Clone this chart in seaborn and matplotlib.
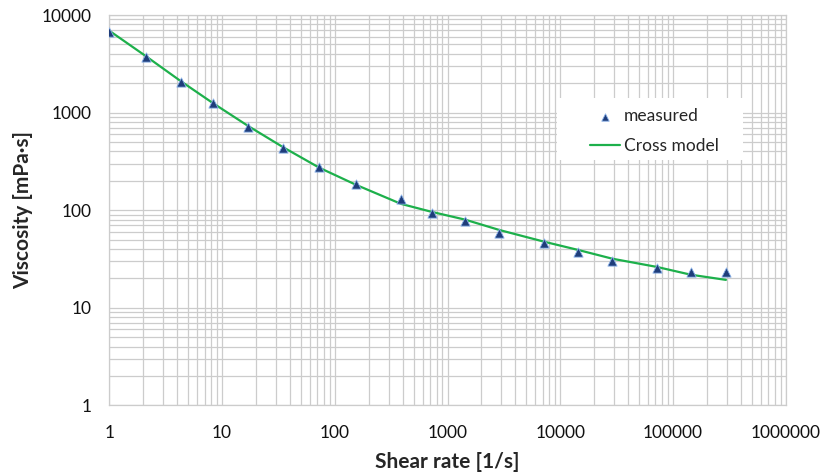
import matplotlib
matplotlib.use("Agg")
import matplotlib.pyplot as plt
import matplotlib.ticker as mticker
from matplotlib.patches import Rectangle
import seaborn as sns
import pandas as pd

# shear rate [1/s] at the measured points
shear_rate = [1, 2.1, 4.3, 8.3, 17, 35, 73, 154, 387, 726, 1430, 2890,
              7200, 14300, 29000, 72000, 144000, 295000]
# measured viscosity [mPa.s]
visc_measured = [6750, 3690, 2075, 1245, 717, 431, 275, 185, 129, 93,
                 77.5, 59, 45.8, 37.6, 30.4, 25.4, 23.4, 23.4]
# Cross model fit [mPa.s]
visc_model = [6900, 3800, 2100, 1250, 730, 440, 272, 182, 116, 96,
              80, 62.6, 47.5, 39.2, 31.8, 26.2, 21.8, 19.3]

x_ticks = [1, 10, 100, 1000, 10000, 100000, 1000000]
y_ticks = [1, 10, 100, 1000, 10000]

df = pd.DataFrame({"shear": shear_rate, "measured": visc_measured,
                   "model": visc_model})

sns.set_theme(style="white")
plt.rcParams["font.family"] = ["Lato", "DejaVu Sans"]

fig = plt.figure(figsize=(8.24, 4.75), dpi=100)
ax = fig.add_axes([0.1327, 0.1467, 0.8208, 0.8217])

sns.lineplot(data=df, x="shear", y="model", ax=ax, color="#1db04b",
             linewidth=1.6, label="Cross model", zorder=3)
sns.scatterplot(data=df, x="shear", y="measured", ax=ax, marker="^",
                s=44, color="#1f3d7a", edgecolor="#86aee6", linewidth=0.6,
                label="measured", zorder=4)

ax.set_xscale("log")
ax.set_yscale("log")
ax.set_xlim(1, 1e6)
ax.set_ylim(1, 1e4)

ax.xaxis.set_major_locator(mticker.FixedLocator(x_ticks))
ax.yaxis.set_major_locator(mticker.FixedLocator(y_ticks))
ax.xaxis.set_minor_locator(mticker.LogLocator(base=10, subs=range(2, 10), numticks=20))
ax.yaxis.set_minor_locator(mticker.LogLocator(base=10, subs=range(2, 10), numticks=20))
fmt = mticker.FuncFormatter(lambda v, p: f"{v:.0f}")
ax.xaxis.set_major_formatter(fmt)
ax.yaxis.set_major_formatter(fmt)
ax.xaxis.set_minor_formatter(mticker.NullFormatter())
ax.yaxis.set_minor_formatter(mticker.NullFormatter())

ax.grid(True, which="both", color="#cccccc", linewidth=0.9)
ax.set_axisbelow(True)
for side in ax.spines.values():
    side.set_color("#cccccc")
    side.set_linewidth(0.9)

ax.tick_params(axis="both", which="both", length=0, labelsize=12.5,
               colors="#111111")
ax.tick_params(axis="x", pad=14)
ax.tick_params(axis="y", pad=13)

ax.set_xlabel("Shear rate [1/s]", fontsize=15, fontweight="bold", labelpad=8)
ax.set_ylabel("Viscosity [mPa·s]", fontsize=15, fontweight="bold", labelpad=6)

# white legend box, wider than the entries
ax.add_patch(Rectangle((0.662, 0.628), 0.275, 0.159, transform=ax.transAxes,
                       facecolor="white", edgecolor="none", zorder=5))

handles, labels = ax.get_legend_handles_labels()
order = [labels.index("measured"), labels.index("Cross model")]
leg = ax.legend([handles[i] for i in order], [labels[i] for i in order],
                loc="upper left", bbox_to_anchor=(0.711, 0.761),
                borderaxespad=0, borderpad=0, frameon=False,
                fontsize=12.5, handlelength=1.7, handletextpad=0.25,
                labelspacing=0.78, markerscale=0.8)
leg.set_zorder(6)

fig.savefig("out.png", dpi=100)
